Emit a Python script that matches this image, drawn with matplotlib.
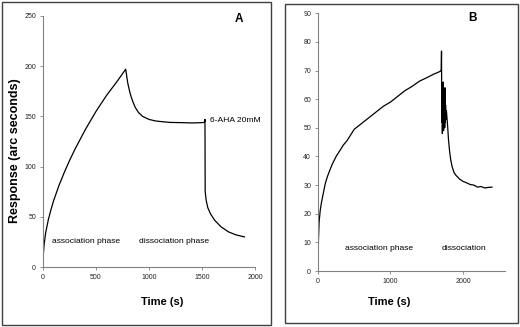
import matplotlib
matplotlib.use("Agg")
import matplotlib.pyplot as plt
from matplotlib.patches import Rectangle

plt.rcParams['font.family'] = ['Liberation Sans', 'DejaVu Sans']

# Panel A data
a_time = [0, 3, 10, 25, 50, 75, 100, 150, 200, 250, 300, 400, 500, 600, 700, 780,
          790, 800, 815, 830, 850, 870, 900, 940, 1000, 1060, 1100, 1200, 1300, 1400,
          1450, 1500, 1520, 1526, 1528, 1530, 1540, 1555, 1580, 1620, 1680, 1750,
          1820, 1900]
a_resp = [0, 12, 22, 34, 47, 57, 66, 81, 94, 106, 117, 137, 155, 171, 185, 197,
          190, 183, 176, 170, 164, 159, 154, 150, 147, 145.5, 145, 144, 143.8, 143.5,
          143.6, 143.8, 144, 145, 147, 75, 66, 59, 53, 46.5, 40, 35, 32, 30]

# Panel B data
b_time = [0, 5, 15, 30, 45, 60, 80, 100, 130, 160, 200, 250, 300, 350, 400, 450,
          500, 550, 600, 700, 800, 900, 1000, 1100, 1200, 1300, 1400, 1500, 1600,
          1650, 1690, 1700, 1704, 1708, 1712, 1716, 1720, 1724, 1728, 1732, 1736,
          1740, 1744, 1748, 1752, 1756, 1760, 1766, 1772, 1778, 1784, 1790, 1800,
          1815, 1830, 1850, 1875, 1900, 1950, 2000, 2050, 2100, 2150, 2200, 2250,
          2300, 2350, 2400]
b_resp = [0, 10, 17, 21, 23.5, 25.5, 28, 30.5, 33, 35, 37.5, 40, 42, 44, 45.5, 47.5,
          49.5, 50.5, 51.5, 53.5, 55.5, 57.5, 59, 61, 63, 64.5, 66.3, 67.5, 68.8,
          69.3, 69.8, 70.2, 76.8, 52, 61, 48, 60, 50, 66, 49, 58, 52, 63, 50, 64,
          52, 58, 53, 56, 54, 52, 50, 46, 42, 39, 36.5, 34.5, 33.5, 32.2, 31.3, 30.8,
          30.2, 30, 29.3, 29.5, 29, 29.2, 29.3]

a_xticks = [0, 500, 1000, 1500, 2000]
a_yticks = [0, 50, 100, 150, 200, 250]
b_xticks = [0, 1000, 2000]
b_yticks = [0, 10, 20, 30, 40, 50, 60, 70, 80, 90]

fig = plt.figure(figsize=(5.2, 3.27), dpi=100)
W, H = 520, 327

def box(x0, y0, x1, y1):
    fig.patches.append(Rectangle((x0 / W, 1 - y1 / H), (x1 - x0) / W, (y1 - y0) / H,
                                 transform=fig.transFigure, fill=False,
                                 edgecolor='#404040', linewidth=1.0))

box(2, 2, 271, 325)
box(285, 4, 518, 323)

def style(ax):
    for s in ['top', 'right']:
        ax.spines[s].set_visible(False)
    for s in ['left', 'bottom']:
        ax.spines[s].set_color('#808080')
        ax.spines[s].set_linewidth(0.8)
    ax.tick_params(axis='both', labelsize=5, length=2.5, width=0.6,
                   color='#808080', pad=2.5, labelcolor='#222222')

TXT = 6.1

axA = fig.add_axes([43 / W, 1 - 267 / H, (255 - 43) / W, (267 - 16) / H])
axA.plot(a_time, a_resp, color='black', linewidth=0.9)
axA.set_xlim(0, 2000)
axA.set_ylim(0, 250)
axA.set_xticks(a_xticks)
axA.set_yticks(a_yticks)
style(axA)
axA.set_xlabel('Time (s)', fontsize=8, fontweight='bold')
axA.xaxis.set_label_coords(0.561, -0.139)
axA.xaxis.label.set_va('center')
axA.set_ylabel('Response (arc seconds)', fontsize=9, fontweight='bold')
axA.yaxis.set_label_coords(-0.132, 0.462)
axA.yaxis.label.set_va('center')
axA.text(85, 25, 'association phase', fontsize=TXT, ha='left', va='center')
axA.text(902, 25, 'dissociation phase', fontsize=TXT, ha='left', va='center')
axA.text(1575, 146, '6-AHA 20mM', fontsize=TXT, ha='left', va='center', clip_on=False)
axA.text(1849, 247, 'A', fontsize=8.5, fontweight='bold', ha='center', va='center')

axB = fig.add_axes([318 / W, 1 - 271 / H, (505 - 318) / W, (271 - 13.3) / H])
axB.plot(b_time, b_resp, color='black', linewidth=0.9)
axB.set_xlim(0, 2580)
axB.set_ylim(0, 90)
axB.set_xticks(b_xticks)
axB.set_yticks(b_yticks)
style(axB)
axB.set_xlabel('Time (s)', fontsize=8, fontweight='bold')
axB.xaxis.set_label_coords(0.38, -0.12)
axB.xaxis.label.set_va('center')
axB.text(370, 7.8, 'association phase', fontsize=TXT, ha='left', va='center')
axB.text(1709, 7.8, 'dissociation', fontsize=TXT, ha='left', va='center')
axB.text(2125, 88.2, 'B', fontsize=8.5, fontweight='bold', ha='center', va='center')

fig.savefig('out.png', dpi=100)
